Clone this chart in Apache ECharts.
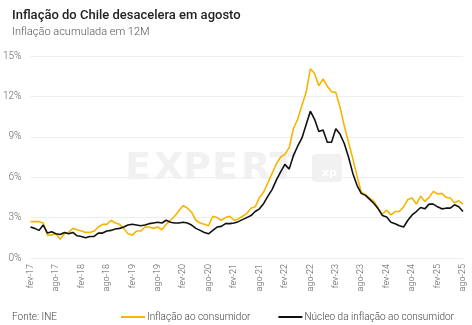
<!DOCTYPE html>
<html>
<head>
<meta charset="utf-8">
<script src="https://cdn.jsdelivr.net/npm/echarts@6/dist/echarts.min.js"></script>
<style>
  html, body { margin: 0; padding: 0; background: #fff; }
  #chart { width: 472px; height: 325px; }
</style>
</head>
<body>
<div id="chart"></div>
<script>
// Monthly series, Feb 2017 through Aug 2025 (12-month accumulated, %)
const monthNames = ['jan','fev','mar','abr','mai','jun','jul','ago','set','out','nov','dez'];
const startYear = 2017, startMonth = 1, count = 103;

const inflacao = [
  2.7, 2.7, 2.7, 2.6, 1.7, 1.7, 1.8, 1.4, 1.8, 1.9, 2.2, 2.1,
  2.0, 1.9, 1.9, 2.0, 2.3, 2.5, 2.5, 2.8, 2.6, 2.5, 2.2, 1.8,
  1.7, 2.0, 2.0, 2.3, 2.3, 2.2, 2.3, 2.1, 2.5, 2.8, 3.1, 3.5,
  3.9, 3.7, 3.4, 2.8, 2.6, 2.5, 2.4, 3.1, 3.0, 2.8, 3.0, 3.1,
  2.8, 2.9, 3.1, 3.3, 3.7, 3.8, 4.5, 4.9, 5.6, 6.3, 7.0, 7.5,
  7.7, 8.2, 9.6, 10.3, 11.3, 12.3, 14.05, 13.7, 12.8, 13.3, 12.75, 12.35,
  12.3, 11.2, 9.8, 8.6, 7.4, 6.1, 4.9, 4.7, 4.45, 4.2, 3.7, 3.25,
  3.55, 3.2, 3.45, 3.45, 3.8, 4.35, 4.45, 4.0, 4.6, 4.2, 4.5, 4.95,
  4.75, 4.8, 4.5, 4.45, 4.1, 4.25, 4.0
];

const nucleo = [
  2.3, 2.2, 2.05, 2.45, 1.85, 1.95, 1.8, 1.75, 1.9, 1.8, 1.9, 1.65,
  1.6, 1.5, 1.6, 1.6, 1.85, 1.85, 2.0, 2.05, 2.15, 2.2, 2.3, 2.45,
  2.5, 2.45, 2.4, 2.45, 2.55, 2.6, 2.65, 2.6, 2.8, 2.65, 2.6, 2.6,
  2.65, 2.6, 2.45, 2.2, 2.05, 1.9, 1.8, 2.05, 2.3, 2.35, 2.55, 2.55,
  2.6, 2.7, 2.85, 3.0, 3.15, 3.45, 3.65, 4.05, 4.6, 5.1, 5.8, 6.4,
  6.95, 6.6, 7.6, 8.3, 8.9, 9.9, 10.9, 10.3, 9.4, 9.5, 8.6, 8.6,
  9.6, 9.2, 8.5, 7.5, 6.3, 5.4, 4.8, 4.65, 4.35, 4.05, 3.65, 3.15,
  3.05, 2.65, 2.55, 2.4, 2.3, 2.8, 3.2, 3.45, 3.75, 3.65, 4.0, 4.0,
  3.8, 3.65, 3.7, 3.7, 3.95, 3.8, 3.45
];

const yTicks = { min: 0, max: 15, interval: 3 };

const meses = [];
for (let k = 0; k < count; k++) {
  const m = (startMonth + k) % 12;
  const y = startYear + Math.floor((startMonth + k) / 12);
  meses.push(monthNames[m] + '-' + String(y).slice(2));
}

// brand watermark behind the lines: wide letters plus the "xp" badge
const markLetters = 'EXPERT'.split('');
const watermark = markLetters.map((ch, k) => ({
  type: 'text', x: 125 + k * 29, y: 150, z: 1, silent: true,
  style: { text: ch, fill: '#f1f1f1', font: '900 38px "DejaVu Sans"' }
}));
watermark.push(
  {
    type: 'rect', x: 312, y: 154, z: 1, silent: true,
    shape: { width: 30, height: 28, r: 4 },
    style: { fill: '#f1f1f1' }
  },
  {
    type: 'text', x: 322, y: 168, z: 1, silent: true,
    style: { text: 'xp', fill: '#ffffff', font: 'bold 11px "DejaVu Sans"' }
  }
);

const chart = echarts.init(document.getElementById('chart'), null, { renderer: 'canvas' });

chart.setOption({
  animation: false,
  backgroundColor: '#ffffff',
  title: [
    {
      text: 'Inflação do Chile desacelera em agosto',
      left: 7, top: 4,
      textStyle: { fontFamily: 'Roboto', fontWeight: 500, fontSize: 13, color: '#222' }
    },
    {
      text: 'Inflação acumulada em 12M',
      left: 7, top: 22,
      textStyle: { fontFamily: 'Roboto', fontWeight: 300, fontSize: 11, color: '#555' }
    },
    {
      text: 'Fonte: INE',
      left: 7, top: 307,
      textStyle: { fontFamily: 'Roboto', fontWeight: 300, fontSize: 10, color: '#444' }
    }
  ],
  graphic: watermark,
  legend: {
    left: 116, top: 307,
    itemWidth: 24, itemHeight: 2, itemGap: 28,
    icon: 'rect',
    textStyle: { fontFamily: 'Roboto', fontWeight: 300, fontSize: 10, color: '#444', padding: [0, 0, 0, -3] },
    data: ['Inflação ao consumidor', 'Núcleo da inflação ao consumidor']
  },
  grid: { left: 30, right: 9, top: 56, bottom: 67, containLabel: false },
  xAxis: {
    type: 'category',
    data: meses,
    boundaryGap: false,
    axisLine: { show: false },
    axisTick: { show: false },
    axisLabel: {
      interval: 5, rotate: 90, margin: 6,
      fontFamily: 'Roboto', fontWeight: 300, fontSize: 9, color: '#555'
    },
    splitLine: { show: false }
  },
  yAxis: {
    type: 'value',
    min: yTicks.min, max: yTicks.max, interval: yTicks.interval,
    axisLine: { show: false },
    axisTick: { show: false },
    axisLabel: {
      formatter: '{value}%', margin: 9,
      fontFamily: 'Roboto', fontWeight: 300, fontSize: 10, color: '#666'
    },
    splitLine: { lineStyle: { color: '#eeeeee', width: 1 } }
  },
  series: [
    {
      name: 'Inflação ao consumidor',
      type: 'line', data: inflacao, showSymbol: false, z: 3,
      lineStyle: { color: '#F7B500', width: 1.6 },
      itemStyle: { color: '#F7B500' }
    },
    {
      name: 'Núcleo da inflação ao consumidor',
      type: 'line', data: nucleo, showSymbol: false, z: 4,
      lineStyle: { color: '#111111', width: 1.6 },
      itemStyle: { color: '#111111' }
    }
  ]
});
</script>
</body>
</html>
